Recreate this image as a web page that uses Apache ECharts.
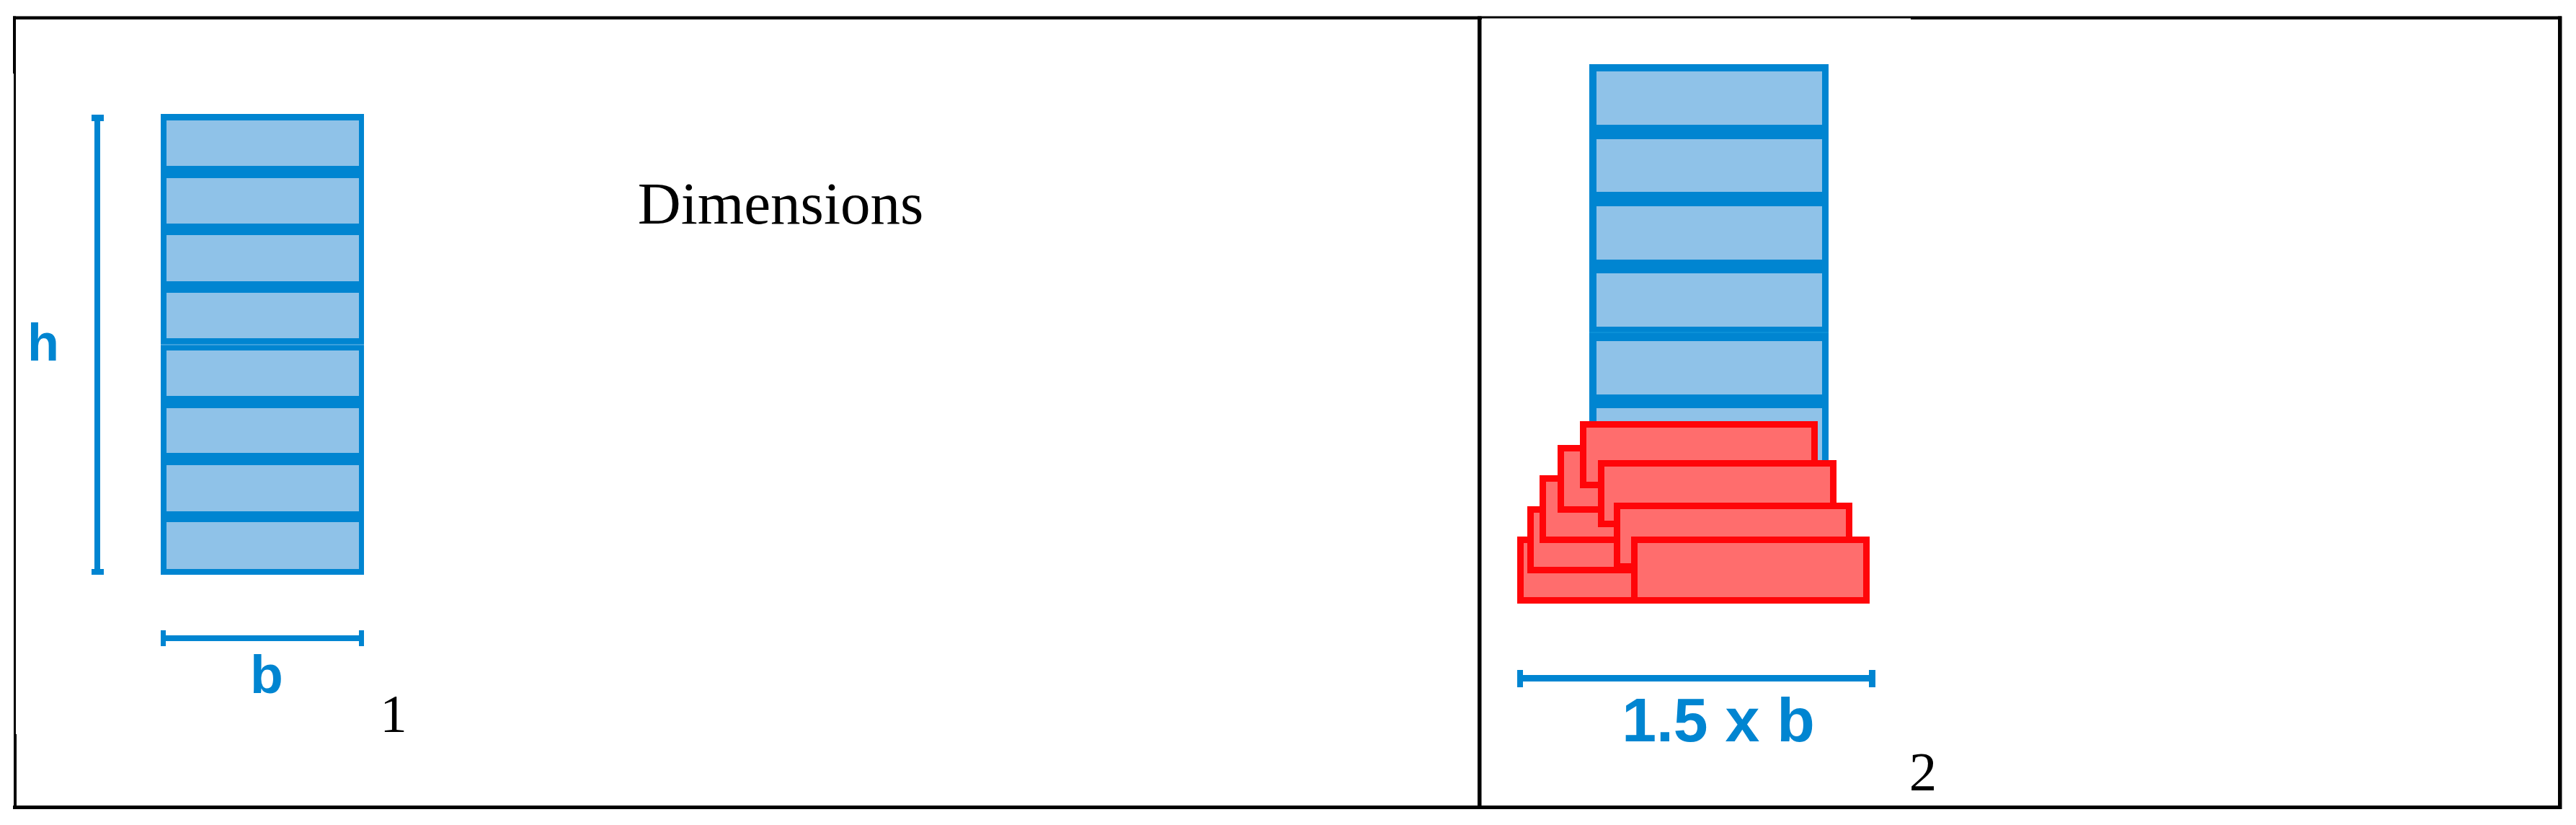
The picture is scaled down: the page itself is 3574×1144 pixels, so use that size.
<!DOCTYPE html>
<html>
<head>
<meta charset="utf-8">
<title>Dimensions</title>
<style>
html, body { margin: 0; padding: 0; background: #fff; }
#main { width: 3574px; height: 1144px; }
</style>
<script src="https://cdn.jsdelivr.net/npm/echarts@6/dist/echarts.min.js"></script>
</head>
<body>
<div id="main"></div>
<script>
// all boxes are [x0, y0, x1, y1], in axis units
var frameThick = [
    [18, 22.5, 3554, 27], [18, 1117, 3554, 1122], [18, 22.5, 22, 102], [19, 1018, 23, 1122],
    [2050, 22.5, 2055.5, 1122], [3549, 22.5, 3554.5, 1122]
];
var frameThin = [[19, 102, 22, 1018]];
var frameFaint = [[2056, 25.5, 2651, 28]];

var towerLeft = [[223, 158, 505, 797]];
var storeysLeft = [
    [231, 167, 498, 230], [231, 247, 498, 310], [231, 326, 498, 390], [231, 406, 498, 469],
    [231, 486, 498, 549], [231, 566, 498, 628], [231, 645, 498, 709], [231, 724, 498, 789]
];
var towerRight = [[2205, 89, 2537, 650]];
var storeysRight = [
    [2215, 99, 2528, 173], [2215, 193, 2528, 266], [2215, 286, 2528, 360],
    [2215, 379, 2528, 453], [2215, 473, 2528, 547], [2215, 566, 2528, 645]
];
var seamLeft = [[223, 477, 505, 479]];
var seamRight = [[2205, 460, 2537, 462]];

// back to front
var beams = [
    [2105, 744, 2436, 837], [2119, 702, 2450, 795], [2136, 659, 2467, 753], [2161, 617, 2492, 711],
    [2192, 584, 2522, 677], [2217, 638, 2548, 731], [2239, 697, 2570, 790], [2263, 744, 2594, 837]
];

var dimensionBars = [
    [131, 159, 139, 797], [127, 159, 144, 168], [127, 789, 144, 797],
    [223, 881, 505, 889], [223, 874, 230, 896], [498, 874, 505, 896],
    [2105, 936, 2602, 945], [2105, 929, 2113, 953], [2593, 929, 2602, 953]
];

var dimensionNames = [['h', 60, 480, 72], ['b', 370, 940, 75], ['1.5 x b', 2384, 1004, 86]];
var captions = [['Dimensions', 1083, 288, 83], ['1', 546, 995, 75], ['2', 2668, 1076, 77]];

var BLUE = '#0085d1';
var PANEL = '#8fc2e8';
var RED = '#ff0509';
var BEAM = '#ff6d6d';

function boxSeries(data, fill, stroke, strokeWidth) {
    return {
        type: 'custom',
        coordinateSystem: 'cartesian2d',
        silent: true,
        clip: false,
        animation: false,
        data: data,
        encode: { x: [0, 2], y: [1, 3] },
        renderItem: function(params, api) {
            var a = api.coord([api.value(0), api.value(1)]);
            var b = api.coord([api.value(2), api.value(3)]);
            var inset = (strokeWidth || 0) / 2;
            return {
                type: 'rect',
                shape: {
                    x: a[0] + inset,
                    y: a[1] + inset,
                    width: b[0] - a[0] - inset * 2,
                    height: b[1] - a[1] - inset * 2
                },
                style: { fill: fill, stroke: stroke || null, lineWidth: strokeWidth || 0 }
            };
        }
    };
}

function textSeries(data, color, family, weight) {
    return {
        type: 'custom',
        coordinateSystem: 'cartesian2d',
        silent: true,
        clip: false,
        animation: false,
        data: data,
        encode: { x: 1, y: 2 },
        renderItem: function(params, api) {
            var p = api.coord([api.value(1), api.value(2)]);
            return {
                type: 'text',
                style: {
                    text: data[params.dataIndex][0],
                    x: p[0],
                    y: p[1],
                    align: 'center',
                    verticalAlign: 'middle',
                    fill: color,
                    fontFamily: family,
                    fontWeight: weight,
                    fontSize: api.value(3)
                }
            };
        }
    };
}

var myChart = echarts.init(document.getElementById('main'));
var option = {
    backgroundColor: '#ffffff',
    animation: false,
    tooltip: { show: false },
    grid: { left: 0, right: 0, top: 0, bottom: 0 },
    xAxis: { type: 'value', min: 0, max: 3574, show: false },
    yAxis: { type: 'value', min: 0, max: 1144, inverse: true, show: false },
    series: [
        boxSeries(frameThick, '#000000'),
        boxSeries(frameThin, '#000000'),
        boxSeries(frameFaint, '#ffffff'),
        boxSeries(towerLeft, BLUE),
        boxSeries(storeysLeft, PANEL),
        boxSeries(towerRight, BLUE),
        boxSeries(storeysRight, PANEL),
        boxSeries(seamLeft, '#3a9fdc'),
        boxSeries(seamRight, '#0a90d8'),
        boxSeries(beams, BEAM, RED, 9),
        boxSeries(dimensionBars, BLUE),
        textSeries(dimensionNames, BLUE, '"Liberation Sans", Arial, sans-serif', 'bold'),
        textSeries(captions, '#000000', '"Liberation Serif", "Times New Roman", serif', 'normal')
    ]
};
myChart.setOption(option);
</script>
</body>
</html>
